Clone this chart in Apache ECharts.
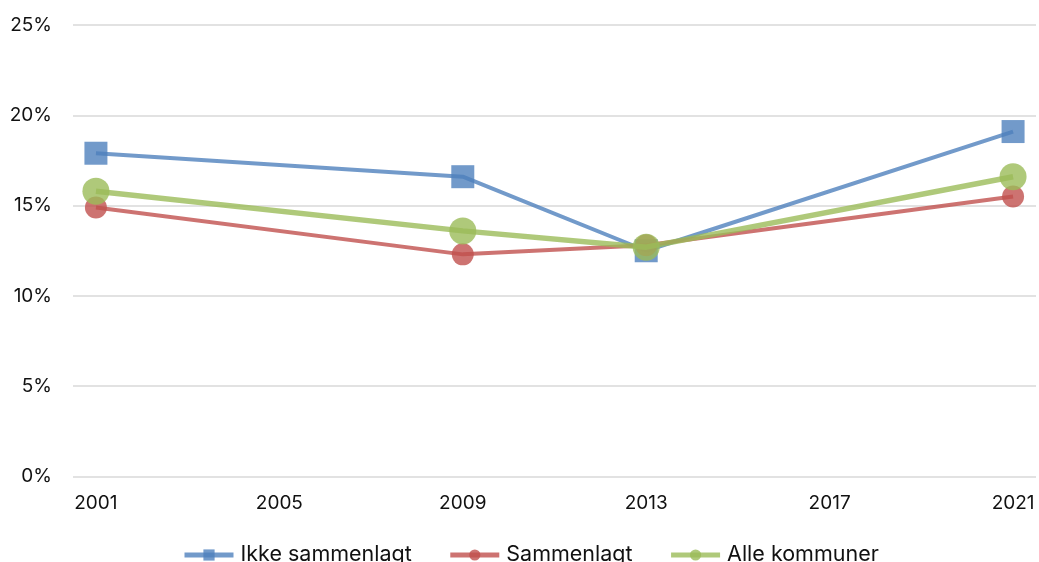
<!DOCTYPE html>
<html>
<head>
<meta charset="utf-8">
<script src="https://cdn.jsdelivr.net/npm/echarts@6/dist/echarts.min.js"></script>
<style>html,body{margin:0;padding:0;background:#fff;}#c{width:1039px;height:562px;}</style>
</head>
<body>
<div id="c"></div>
<script>
const axisYears = ['2001','2002','2003','2004','2005','2006','2007','2008','2009','2010','2011','2012','2013','2014','2015','2016','2017','2018','2019','2020','2021'];
const years = ['2001', '2009', '2013', '2021'];
const ikkeSammenlagt = [17.9, 16.6, 12.5, 19.1];
const sammenlagt = [14.9, 12.3, 12.8, 15.5];
const alleKommuner = [15.8, 13.6, 12.7, 16.6];
const yTicks = [0, 5, 10, 15, 20, 25];

const pair = arr => years.map((y, i) => [y, arr[i]]);
const font = 'Inter, "Noto Sans", sans-serif';

const chart = echarts.init(document.getElementById('c'), null, {renderer: 'canvas'});
chart.setOption({
  animation: false,
  textStyle: {fontFamily: font},
  grid: {left: 73, right: 3, top: 25, bottom: 85.5},
  xAxis: {
    type: 'category',
    data: axisYears,
    boundaryGap: true,
    axisLine: {show: false},
    axisTick: {show: false},
    axisLabel: {interval: 3, fontSize: 19, color: '#111', margin: 17, fontFamily: font}
  },
  yAxis: {
    type: 'value',
    min: yTicks[0], max: yTicks[yTicks.length - 1], interval: 5,
    axisLine: {show: false},
    axisTick: {show: false},
    axisLabel: {formatter: '{value}%', fontSize: 19, color: '#111', margin: 21, fontFamily: font},
    splitLine: {lineStyle: {color: '#d9d9d9', width: 1.5}}
  },
  legend: {
    top: 539,
    left: 177,
    itemWidth: 49,
    itemHeight: 14,
    itemGap: 36,
    lineStyle: {width: 5},
    textStyle: {fontSize: 21.5, color: '#111', fontFamily: font, padding: [0, 0, 0, 2]},
    data: ['Ikke sammenlagt', 'Sammenlagt', 'Alle kommuner']
  },
  series: [
    {
      name: 'Ikke sammenlagt', type: 'line', data: pair(ikkeSammenlagt),
      symbol: 'rect', symbolSize: 23, z: 3,
      itemStyle: {color: '#4F81BD', opacity: 0.8},
      lineStyle: {color: '#4F81BD', width: 4, opacity: 0.8}
    },
    {
      name: 'Sammenlagt', type: 'line', data: pair(sammenlagt),
      symbol: 'circle', symbolSize: 22, z: 4,
      itemStyle: {color: '#C0504D', opacity: 0.8},
      lineStyle: {color: '#C0504D', width: 4, opacity: 0.8}
    },
    {
      name: 'Alle kommuner', type: 'line', data: pair(alleKommuner),
      symbol: 'circle', symbolSize: 27, z: 5,
      itemStyle: {color: '#9BBB59', opacity: 0.8},
      lineStyle: {color: '#9BBB59', width: 5.5, opacity: 0.8}
    }
  ]
});
</script>
</body>
</html>
